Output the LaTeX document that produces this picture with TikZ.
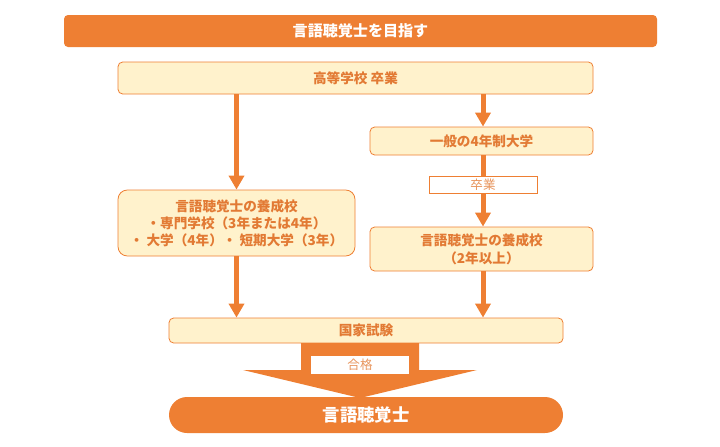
\documentclass[tikz,border=0pt]{standalone}
\usepackage{fontspec}
\setmainfont{Noto Sans CJK JP}
\usetikzlibrary{arrows.meta,positioning}

\definecolor{orng}{HTML}{EE7F33}
\definecolor{cream}{HTML}{FFF2CC}
\definecolor{txt}{HTML}{E27A34}

\begin{document}
\begin{tikzpicture}[x=0.75pt,y=-0.75pt]
  \useasboundingbox (0,0) rectangle (720,446);

  %stili
  \tikzset{banner/.style={fill=orng, rounded corners=3pt, text=white, font=\bfseries\fontsize{11.3}{13}\selectfont, inner sep=0pt}}
  \tikzset{stage/.style={draw=orng, fill=cream, line width=0.6pt, rounded corners=3.5pt, text=txt, font=\bfseries\fontsize{10.2}{13.2}\selectfont, align=center, inner sep=0pt}}
  \tikzset{tag/.style={draw=orng, fill=white, line width=0.6pt, text=txt!80, font=\fontsize{9.4}{11}\selectfont, inner sep=0pt}}
  \tikzset{flow/.style={orng, line width=3.75pt, -{Triangle[width=11.25pt,length=10.5pt]}}}

  % def nodi
  \node[banner, minimum width=444.75pt, minimum height=24pt] (goal) at (360.5,31) {言語聴覚士を目指す};
  \node[stage, minimum width=356.25pt, minimum height=24pt] (hs) at (355.5,78) {高等学校 卒業};
  \node[stage, minimum width=167.25pt, minimum height=21pt] (univ) at (481.5,141) {一般の4年制大学};
  \node[stage, minimum width=167.25pt, minimum height=33pt] (schoolR) at (481.5,249) {言語聴覚士の養成校\\（2年以上）};
  \node[stage, rounded corners=7pt, minimum width=177.75pt, minimum height=49.5pt, font=\bfseries\fontsize{10.2}{12.8}\selectfont] (schoolL) at (236.5,223) {言語聴覚士の養成校\\・専門学校（3年または4年）\\・ 大学（4年）・ 短期大学（3年）};
  \node[stage, minimum width=295.5pt, minimum height=18.75pt] (exam) at (366,330.5) {国家試験};

  %frecce
  \draw[flow] (schoolL.north |- hs.south) -- (schoolL.north);
  \draw[flow] (483,94) -- (univ.north -| 483,0);
  \draw[flow] (univ.south -| 483,0) -- (schoolR.north -| 483,0);
  \node[tag, minimum width=81pt, minimum height=12.75pt] (grad) at (483,184.5) {卒業};
  \draw[flow] (schoolL.south) -- (exam.north -| schoolL.south);
  \draw[flow] (schoolR.south -| 483,0) -- (exam.north -| 483,0);

  % freccia grande
  \fill[orng] (301,343) -- (419,343) -- (419,370) -- (477,370) -- (360,398)
    -- (243,370) -- (301,370) -- cycle;
  \node[tag, draw=none, minimum width=73.5pt, minimum height=13.5pt] (pass) at (360,365) {合格};

  % risultato
  \node[banner, rounded corners=13.5pt, minimum width=295.5pt, minimum height=27pt, font=\bfseries\fontsize{13}{15}\selectfont] (result) at (366,415) {言語聴覚士};

\end{tikzpicture}
\end{document}
